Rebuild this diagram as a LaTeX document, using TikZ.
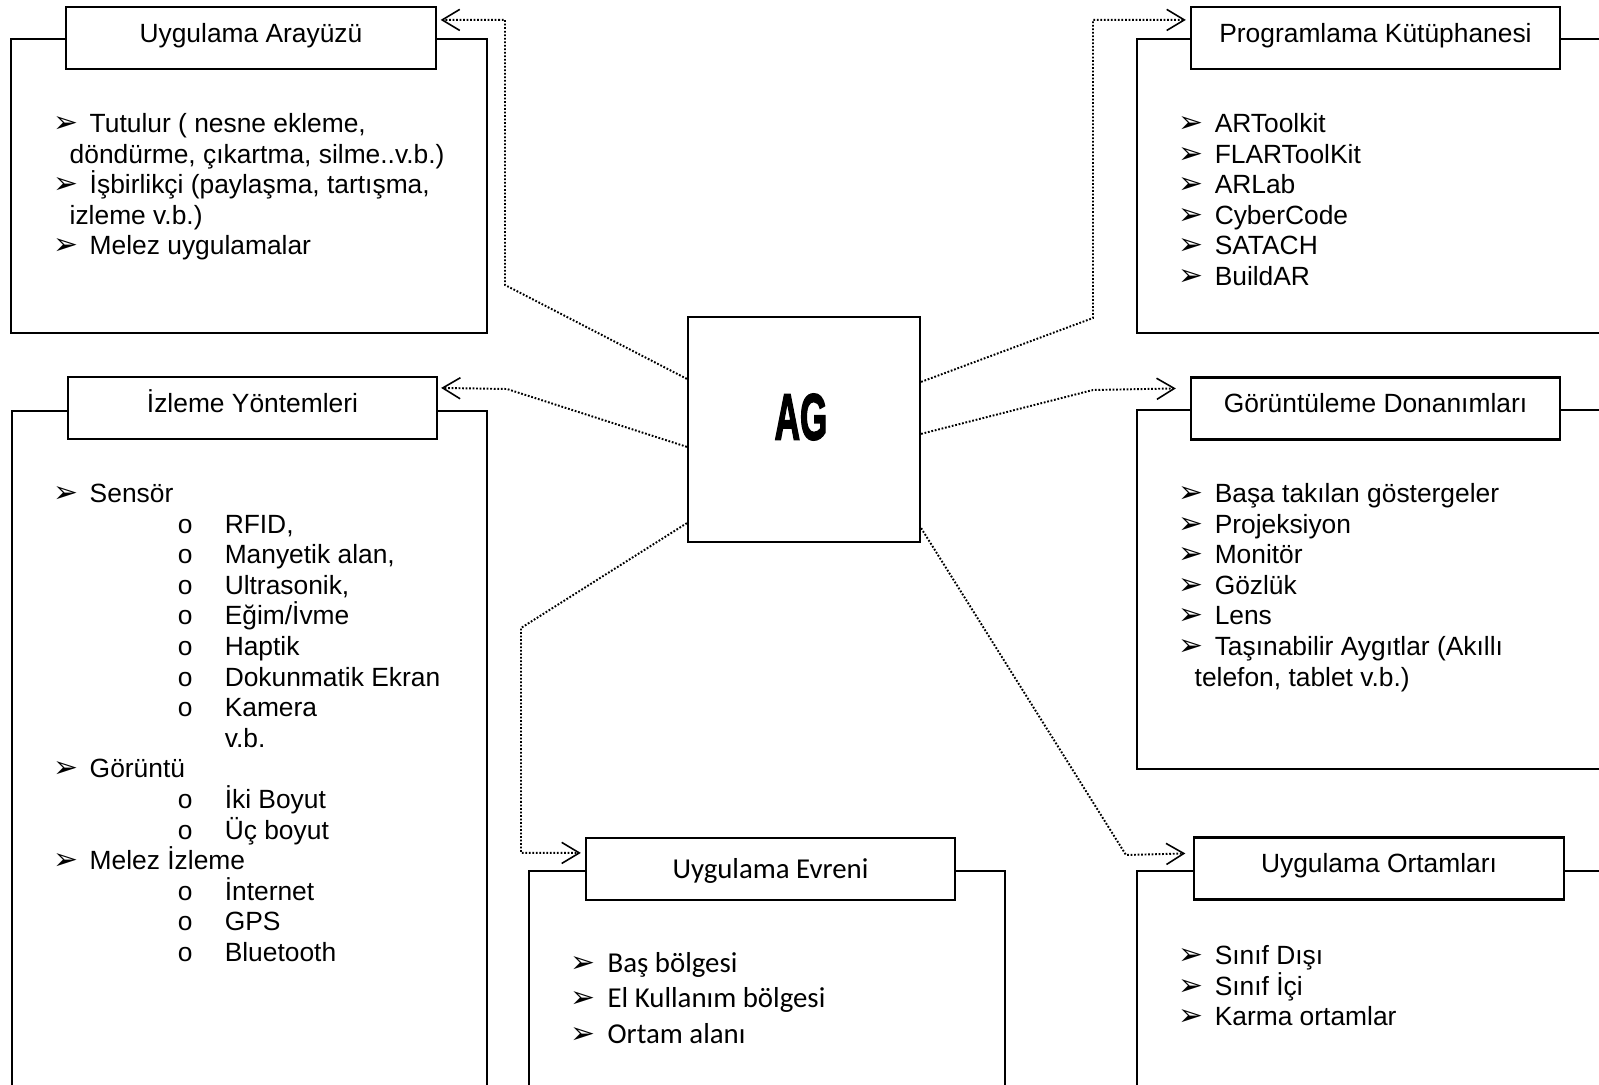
\documentclass[tikz,border=0pt]{standalone}
\usepackage{fontspec}
\setmainfont{Liberation Sans}
\newfontfamily\dejavu{DejaVu Sans}
\newfontfamily\carlito{Carlito}
\newfontfamily\agfont{Liberation Sans Bold}[FakeBold=3]
\usetikzlibrary{arrows.meta,calc}
\newcommand\bulmark{\raisebox{0pt}{\fontsize{8.5pt}{8.5pt}\selectfont\dejavu ➢}}
\newcommand\itm[1]{\makebox[10.25pt][l]{\bulmark}#1}
\newcommand\itmc[1]{\makebox[10.5pt][l]{\bulmark}#1}
\newcommand\cont[1]{\hspace*{4.55pt}#1}
\newcommand\subi[1]{\hspace*{35.3pt}\makebox[13.35pt][l]{o}#1}
\newcommand\vbl{\hspace*{48.65pt}v.b.}
\tikzset{
  box/.style={draw, line width=0.6pt},
  title/.style={draw, fill=white, line width=0.6pt, minimum width=3.69cm, minimum height=0.62cm,
    inner sep=0pt, text height=6pt, text depth=3.5pt, font=\fontsize{7.5pt}{9pt}\selectfont},
  ctitle/.style={title, text height=7.5pt, text depth=2.2pt, font=\carlito\fontsize{8.2pt}{10pt}\selectfont},
  item/.style={anchor=base west, inner sep=0pt, font=\fontsize{7.5pt}{8.7pt}\selectfont},
  citem/.style={anchor=base west, inner sep=0pt, font=\carlito\fontsize{8.2pt}{10pt}\selectfont},
  conn/.style={line width=0.55pt, dash pattern=on 0.5pt off 0.5pt,
    -{Straight Barb[length=5pt,width=6pt,line width=0.45pt]}}
}
\begin{document}
\begin{tikzpicture}[x=0.01cm,y=-0.01cm]
\useasboundingbox (0,0) rectangle (1599,1085);
\clip (0,0) rectangle (1599,1085);
% outer boxes
\draw[box] (11,39) rectangle (487,333);
\draw[box] (12,411) rectangle (487,1120);
\draw[box] (1137,39) rectangle (1620,333);
\draw[box] (1137,410) rectangle (1620,769);
\draw[box] (529,871) rectangle (1005,1120);
\draw[box] (1137,871) rectangle (1620,1120);
% title boxes
\node[title] (t1) at (251,38) {Uygulama Arayüzü};
\node[title] (t2) at (252.5,408) {İzleme Yöntemleri};
\node[title] (t3) at (1375.5,38) {Programlama Kütüphanesi};
\node[title] (t4) at (1375.5,408.5) {Görüntüleme Donanımları};
\node[ctitle] (t5) at (770.5,869) {Uygulama Evreni};
\node[title] (t6) at (1379,868.5) {Uygulama Ortamları};
% centre
\node[draw, line width=0.6pt, minimum width=2.32cm, minimum height=2.25cm, inner sep=0pt] (ag) at (804,429.5) {};
\node[inner sep=0pt, font=\agfont\fontsize{18.5pt}{20pt}\selectfont] (agt) at (801,417) {\scalebox{0.54}[1]{AG}};
% connectors
\draw[conn] ($(ag.north west)+(0,63)$) -- (505,285) |- ($(t1.north east)+(4,14)$);
\draw[conn] ($(ag.north west)+(0,131)$) -- (507,389) -- ($(t2.north east)+(3,12)$);
\draw[conn] ($(ag.north east)+(0,66)$) -- (1093,318) |- ($(t3.north west)+(-4,14)$);
\draw[conn] ($(ag.north east)+(0,118)$) -- (1093,390) -- ($(t4.north west)+(-14,12)$);
\draw[conn] ($(ag.south west)+(0,-20)$) -- (521,628) |- ($(t5.north west)+(-4,16)$);
\draw[conn] ($(ag.south east)+(0,-15)$) -- (1126,855) -- ($(t6.north west)+(-8,17)$);
% lists
\foreach \t [count=\i from 0] in {
  {\itm{Tutulur ( nesne ekleme,}},
  {\cont{döndürme, çıkartma, silme..v.b.)}},
  {\itm{İşbirlikçi (paylaşma, tartışma,}},
  {\cont{izleme v.b.)}},
  {\itm{Melez uygulamalar}}}
  \node[item] (a\i) at (53,{132.5+30.6*\i}) {\t};
\foreach \t [count=\i from 0] in {
  {\itm{Sensör}}, {\subi{RFID,}}, {\subi{Manyetik alan,}}, {\subi{Ultrasonik,}},
  {\subi{Eğim/İvme}}, {\subi{Haptik}}, {\subi{Dokunmatik Ekran}}, {\subi{Kamera}},
  {\vbl}, {\itm{Görüntü}}, {\subi{İki Boyut}}, {\subi{Üç boyut}},
  {\itm{Melez İzleme}}, {\subi{İnternet}}, {\subi{GPS}}, {\subi{Bluetooth}}}
  \node[item] (b\i) at (53,{502.5+30.6*\i}) {\t};
\foreach \t [count=\i from 0] in {ARToolkit, FLARToolKit, ARLab, CyberCode, SATACH, BuildAR}
  \node[item] (c\i) at (1178,{132.5+30.6*\i}) {\itm{\t}};
\foreach \t [count=\i from 0] in {
  {\itm{Başa takılan göstergeler}}, {\itm{Projeksiyon}}, {\itm{Monitör}},
  {\itm{Gözlük}}, {\itm{Lens}}, {\itm{Taşınabilir Aygıtlar (Akıllı}},
  {\cont{telefon, tablet v.b.)}}}
  \node[item] (d\i) at (1178,{502.5+30.6*\i}) {\t};
\foreach \t [count=\i from 0] in {Baş bölgesi, El Kullanım bölgesi, Ortam alanı}
  \node[citem] (e\i) at (570,{972+35.5*\i}) {\itmc{\t}};
\foreach \t [count=\i from 0] in {Sınıf Dışı, Sınıf İçi, Karma ortamlar}
  \node[item] (f\i) at (1178,{964.5+30.6*\i}) {\itm{\t}};
\end{tikzpicture}
\end{document}
